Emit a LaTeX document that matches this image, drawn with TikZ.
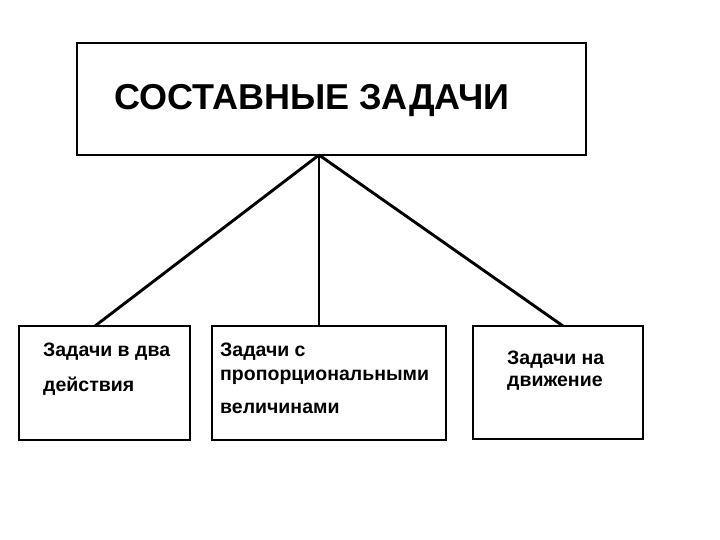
\documentclass[tikz,border=0pt]{standalone}
\usepackage{fontspec}
\setmainfont{Liberation Sans}
\begin{document}
\begin{tikzpicture}[x=1pt,y=-1pt,
  boxst/.style={draw=black,line width=2.9pt,fill=white},
  conn/.style={draw=black,line width=2.9pt},
  txt/.style={inner sep=0pt,anchor=base west,font=\bfseries\fontsize{19.5}{22}\selectfont}]
\useasboundingbox[fill=white] (0,0) rectangle (720,540);
\draw[boxst] (77,43) rectangle (586,155);
\node[inner sep=0pt,anchor=base west,font=\bfseries\fontsize{36}{40}\selectfont] (title) at (114,110) {СОСТАВНЫЕ ЗАДАЧИ};
\coordinate (top) at (319,155);
\coordinate (b1) at (95,326);
\coordinate (b2) at (319,326);
\coordinate (b3) at (563,326);
\draw[conn] (top) -- (b1);
\draw[conn] (top) -- (b2);
\draw[conn] (top) -- (b3);
\draw[boxst] (19,326) rectangle (190,440);
\draw[boxst] (212,326) rectangle (446,440);
\draw[boxst] (473,326) rectangle (643,439);
\node[txt] (t1a) at (43,356) {Задачи в два};
\node[txt] (t1b) at (43,391) {действия};
\node[txt] (t2a) at (220,356) {Задачи с};
\node[txt] (t2b) at (220,380) {пропорциональными};
\node[txt] (t2c) at (220,413) {величинами};
\node[txt] (t3a) at (507,364) {Задачи на};
\node[txt] (t3b) at (507,386) {движение};
\end{tikzpicture}
\end{document}
